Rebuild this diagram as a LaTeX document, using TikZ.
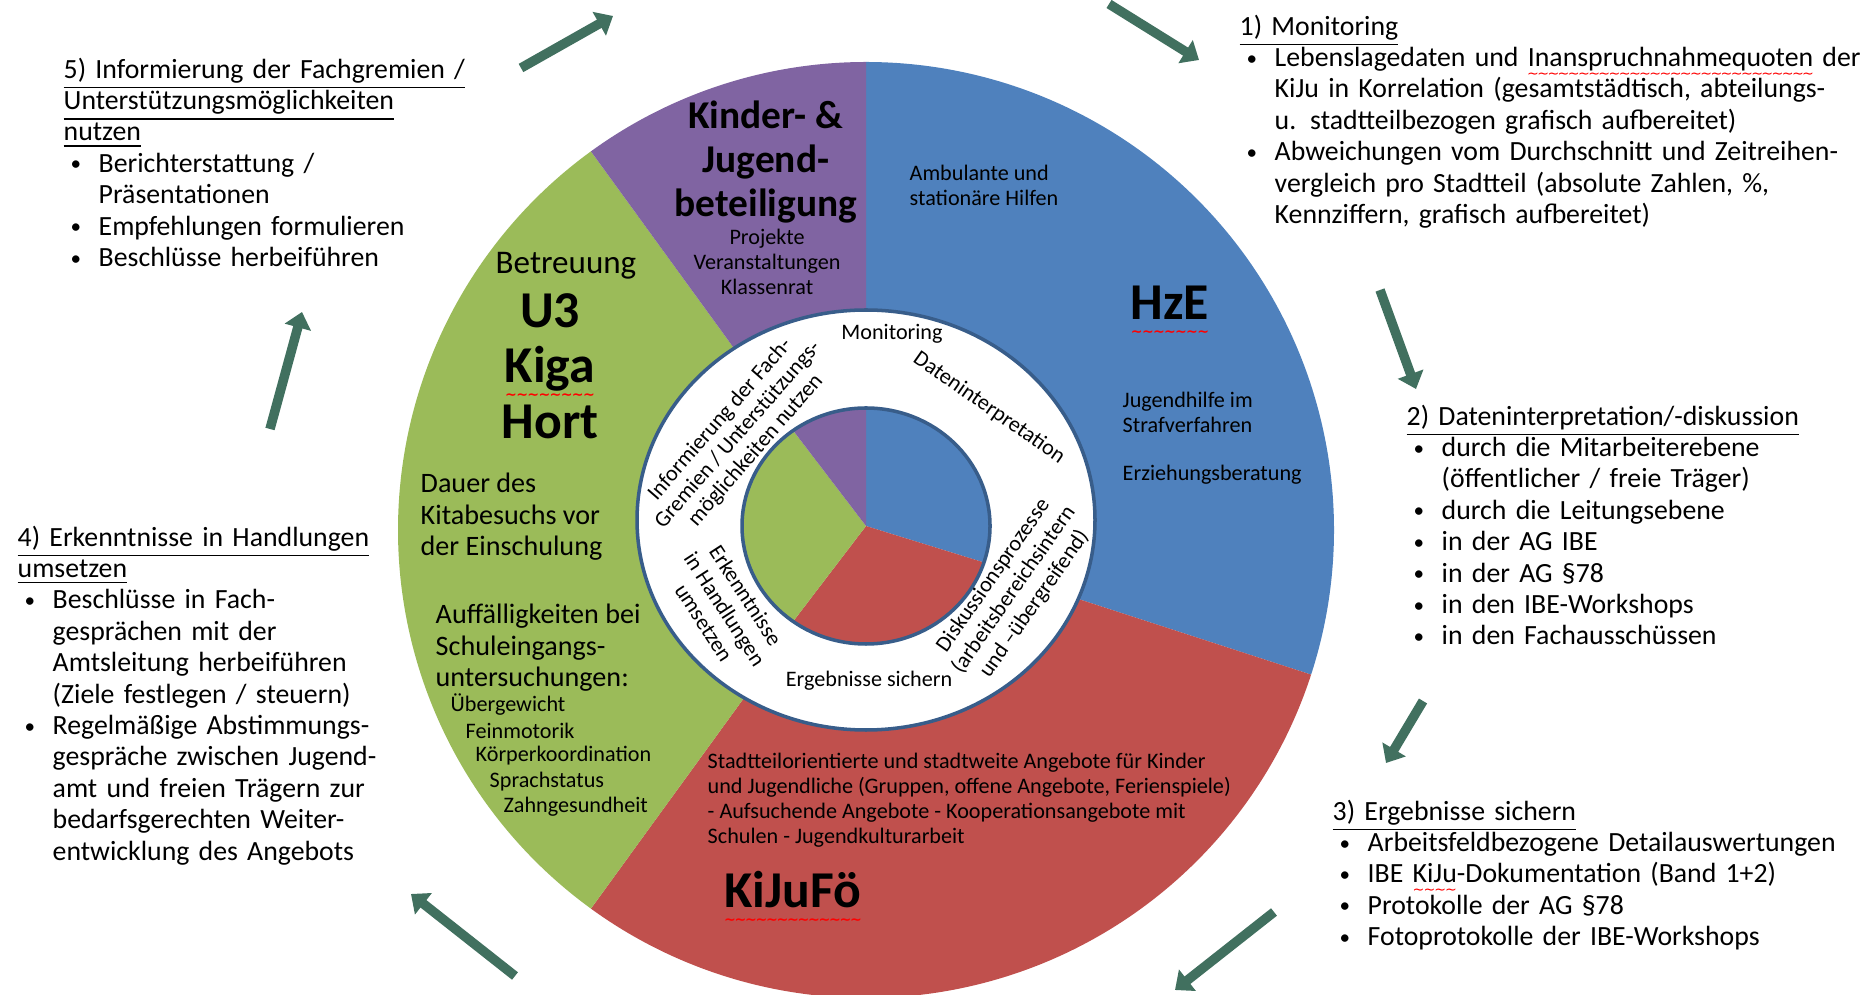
\documentclass[tikz,border=0pt]{standalone}
\usepackage{fontspec}
\setmainfont{Carlito}
\newfontfamily\wellen{DejaVu Sans}
\usetikzlibrary{arrows.meta,positioning,calc}

\definecolor{hzeblau}{HTML}{4F81BD}
\definecolor{foerderrot}{HTML}{C0504D}
\definecolor{betreuunggruen}{HTML}{9BBB59}
\definecolor{beteiligunglila}{HTML}{8064A2}
\definecolor{randblau}{HTML}{385D8A}
\definecolor{pfeilgruen}{HTML}{41705F}

% red wavy underline (spell check marks)
\newsavebox\spellbox
\newcommand\spell[2][3.4pt]{\sbox\spellbox{#2}\leavevmode
  \rlap{\raisebox{-#1}[0pt][0pt]{\textcolor{red}{\wellen\fontsize{4}{4}\selectfont
    \hbox to \wd\spellbox{\xleaders\hbox{\kern-0.25pt∼\kern-0.25pt}\hfill}}}}%
  \usebox\spellbox}

% bullet line and continuation line of a bullet
\newcommand{\punkt}{\par\noindent\hspace*{0.07cm}\makebox[0.28cm][l]{\raisebox{0.4pt}{\fontsize{6}{6}\selectfont\textbullet}}}
\newcommand{\weiter}{\par\noindent\hspace*{0.35cm}}

\begin{document}
\begin{tikzpicture}[
    x=0.01cm, y=-0.01cm,
    % --- text styles ---
    seite/.style  = {anchor=north west, inner sep=0pt, align=left,
                     text width=6.4cm, font=\fontsize{7.9}{8.93}\selectfont},
    klein/.style  = {inner sep=0pt, font=\fontsize{6.3}{7.1}\selectfont},
    eng/.style    = {inner sep=0pt, font=\fontsize{6.3}{6.7}\selectfont},
    mittel/.style = {inner sep=0pt, font=\fontsize{8}{8.95}\selectfont},
    titel/.style  = {inner sep=0pt, align=center,
                     font=\fontsize{11.2}{12.5}\selectfont\bfseries},
    gross/.style  = {inner sep=0pt, align=center,
                     font=\fontsize{14.7}{15.8}\selectfont\bfseries},
    pfeil/.style  = {-{Triangle[length=4.5pt,width=7.5pt]}, line width=2.7pt, pfeilgruen},
]
\path[use as bounding box] (0,0) rectangle (1870,995);

%============ OUTER PIE ============
\coordinate (mitte) at (866,530);
\foreach \a/\b/\c in {-90/18/hzeblau, 18/126/foerderrot,
                      126/234/betreuunggruen, 234/270/beteiligunglila}
  \fill[\c] (mitte) -- ++(\a:468) arc[start angle=\a, end angle=\b, radius=468] -- cycle;

%============ RING + INNER PIE ============
\coordinate (ringmitte) at (866,520);
\filldraw[fill=white, draw=randblau, line width=1pt]
  (ringmitte) ellipse[x radius=229, y radius=210];

\coordinate (kern) at (866,526);
\foreach \a/\b/\c in {-90/18/hzeblau, 18/126/foerderrot,
                      126/234/betreuunggruen, 234/270/beteiligunglila}
  \fill[\c] (kern) -- ++(\a:124 and 118)
    arc[start angle=\a, end angle=\b, x radius=124, y radius=118] -- cycle;
\draw[randblau, line width=1pt] (kern) ellipse[x radius=124, y radius=118];

%============ PIE LABELS ============
\node (beteiligung) [titel] at (766,162) {Kinder- \&\\Jugend-\\beteiligung};
\node (projekte) [klein, align=center] at (767,262)
  {Projekte\\Veranstaltungen\\Klassenrat};

\node (ambulant) [klein, align=left, anchor=west] at (909,185)
  {Ambulante und\\stationäre Hilfen};
\node (hze) [gross] at (1170,303) {\spell[4.8pt]{HzE}};
\node (jugendhilfe) [klein, align=left, anchor=west] at (1122,412)
  {Jugendhilfe im\\Strafverfahren};
\node (beratung) [klein, anchor=west] at (1122,475) {Erziehungsberatung};

\node (betreuung) [inner sep=0pt, font=\fontsize{9.4}{10}\selectfont] at (566,266) {Betreuung};
\node (kita) [gross] at (550,366) {U3\\\spell[4.8pt]{Kiga}\\Hort};
\node (dauer) [mittel, align=left, anchor=west] at (420,517)
  {Dauer des\\Kitabesuchs vor\\der Einschulung};
\node (auffaellig) [mittel, align=left, anchor=west] at (435,648)
  {Auffälligkeiten bei\\Schuleingangs-\\untersuchungen:};
\foreach \t/\x/\y [count=\i] in {Übergewicht/450/705, Feinmotorik/465/731,
    Körperkoordination/475/756, Sprachstatus/489/782, Zahngesundheit/503/807}
  \node (befund\i) [klein, anchor=west] at (\x,\y) {\t};

\node (kijuangebote) [klein, align=left, anchor=west] at (707,800)
  {Stadtteilorientierte und stadtweite Angebote für Kinder\\
   und Jugendliche (Gruppen, offene Angebote, Ferienspiele)\\
   - Aufsuchende Angebote - Kooperationsangebote mit\\
   Schulen - Jugendkulturarbeit};
\node (kijufoe) [gross] at (793,890) {\spell[4.8pt]{KiJuFö}};

%============ RING LABELS ============
\node (rmon) [klein] at (892,334) {Monitoring};
\node (rdaten) [klein, rotate=-35] at (989,408) {Dateninterpretation};
\node (rdisk) [klein, align=center, rotate=55] at (1014,590)
  {Diskussionsprozesse\\(arbeitsbereichsintern\\und –übergreifend)};
\node (rerg) [klein] at (869,681) {Ergebnisse sichern};
\node (rerk) [klein, align=center, rotate=-57] at (725,609)
  {Erkenntnisse\\in Handlungen\\umsetzen};
\node (rinf) [eng, align=center, rotate=49] at (738,435)
  {Informierung der Fach-\\Gremien / Unterstützungs-\\möglichkeiten nutzen};

%============ SIDE BLOCKS ============
\node (monitoring) [seite] at (1239,14)
  {\underline{1) Monitoring}
   \punkt Lebenslagedaten und \spell{Inanspruchnahmequoten} der
   \weiter KiJu in Korrelation (gesamtstädtisch, abteilungs-
   \weiter u. stadtteilbezogen grafisch aufbereitet)
   \punkt Abweichungen vom Durchschnitt und Zeitreihen-
   \weiter vergleich pro Stadtteil (absolute Zahlen, \%,
   \weiter Kennziffern, grafisch aufbereitet)};

\node (interpretation) [seite] at (1406,404)
  {\underline{2) Dateninterpretation/-diskussion}
   \punkt durch die Mitarbeiterebene
   \weiter (öffentlicher / freie Träger)
   \punkt durch die Leitungsebene
   \punkt in der AG IBE
   \punkt in der AG §78
   \punkt in den IBE-Workshops
   \punkt in den Fachausschüssen};

\node (sichern) [seite] at (1332,799)
  {\underline{3) Ergebnisse sichern}
   \punkt Arbeitsfeldbezogene Detailauswertungen
   \punkt IBE \spell{KiJu}-Dokumentation (Band 1+2)
   \punkt Protokolle der AG §78
   \punkt Fotoprotokolle der IBE-Workshops};

\node (umsetzen) [seite] at (17,525)
  {\underline{4) Erkenntnisse in Handlungen}\\\underline{umsetzen}
   \punkt Beschlüsse in Fach-
   \weiter gesprächen mit der
   \weiter Amtsleitung herbeiführen
   \weiter (Ziele festlegen / steuern)
   \punkt Regelmäßige Abstimmungs-
   \weiter gespräche zwischen Jugend-
   \weiter amt und freien Trägern zur
   \weiter bedarfsgerechten Weiter-
   \weiter entwicklung des Angebots};

\node (informieren) [seite] at (63,57)
  {\underline{5) Informierung der Fachgremien /}\\\underline{Unterstützungsmöglichkeiten}\\\underline{nutzen}
   \punkt Berichterstattung /
   \weiter Präsentationen
   \punkt Empfehlungen formulieren
   \punkt Beschlüsse herbeiführen};

%============ CYCLE ARROWS ============
\coordinate (a1s) at (521,68);   \coordinate (a1e) at (613,16);
\coordinate (a2s) at (1109,4);   \coordinate (a2e) at (1199,60);
\coordinate (a3s) at (1380,290); \coordinate (a3e) at (1416,389);
\coordinate (a4s) at (1423,701); \coordinate (a4e) at (1386,763);
\coordinate (a5s) at (1274,912); \coordinate (a5e) at (1175,990);
\coordinate (a6s) at (515,976);  \coordinate (a6e) at (411,894);
\coordinate (a7s) at (270,429);  \coordinate (a7e) at (302,312);

\foreach \i in {1,...,7}
  \draw[pfeil] (a\i s) -- (a\i e);

\end{tikzpicture}
\end{document}
